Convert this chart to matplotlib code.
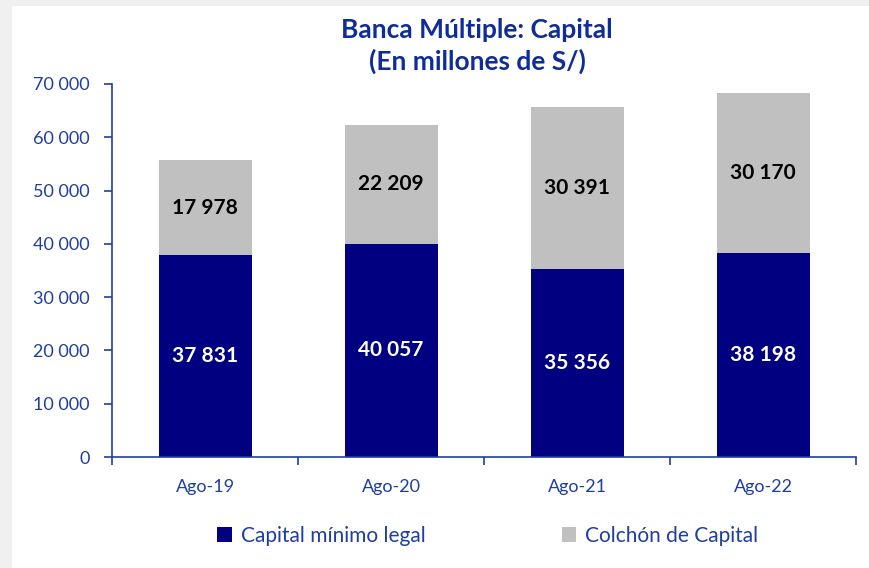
import matplotlib
matplotlib.use("Agg")
import matplotlib.pyplot as plt
import numpy as np
from matplotlib.patches import Rectangle
from matplotlib.ticker import FuncFormatter, FixedLocator

plt.rcParams['font.family'] = ['Lato', 'DejaVu Sans']

# data
periods = ['Ago-19', 'Ago-20', 'Ago-21', 'Ago-22']
capital_minimo = [37831, 40057, 35356, 38198]
colchon = [17978, 22209, 30391, 30170]
series_names = ['Capital mínimo legal', 'Colchón de Capital']

navy = '#000080'
gray = '#C0C0C0'
txt_blue = '#1F3F9F'
title_blue = '#0E2C9A'


def fmt_num(v):
    return '{:,.0f}'.format(v).replace(',', ' ')


fig = plt.figure(figsize=(8.69, 5.68), dpi=100, facecolor='#F0F0F0')
# white panel
fig.patches.append(Rectangle((12 / 869, 0), 1 - 12 / 869, 1 - 6 / 568,
                             transform=fig.transFigure, facecolor='white',
                             edgecolor='none', zorder=-10))

ax = fig.add_axes([112 / 869, 1 - 457 / 568, (856 - 112) / 869, (457 - 84) / 568])
ax.set_facecolor('none')
ax.set_zorder(5)

x = np.arange(len(periods))
b1 = ax.bar(x, capital_minimo, width=0.5, color=navy, label=series_names[0], zorder=2)
b2 = ax.bar(x, colchon, width=0.5, bottom=capital_minimo, color=gray,
            label=series_names[1], zorder=2)

for i in range(len(periods)):
    ax.text(x[i], capital_minimo[i] / 2, fmt_num(capital_minimo[i]), ha='center',
            va='center', color='white', fontsize=15, fontweight='bold')
    ax.text(x[i], capital_minimo[i] + colchon[i] / 2, fmt_num(colchon[i]), ha='center',
            va='center', color='black', fontsize=15, fontweight='bold')

ax.set_xlim(-0.5, len(periods) - 0.5)
ax.set_ylim(0, 70000)
ax.set_yticks(np.arange(0, 70001, 10000))
ax.yaxis.set_major_formatter(FuncFormatter(lambda v, p: fmt_num(v)))

# category boundaries as major ticks, labels on minor ticks
ax.xaxis.set_major_locator(FixedLocator(np.arange(-0.5, len(periods), 1.0)))
ax.xaxis.set_minor_locator(FixedLocator(x))
ax.set_xticklabels([])
ax.set_xticklabels(periods, minor=True)
ax.tick_params(axis='x', which='minor', length=0, pad=16, labelsize=13, labelcolor=txt_blue)
ax.tick_params(axis='x', which='major', length=6, color=txt_blue, width=1.2)
ax.tick_params(axis='y', length=6, color=txt_blue, width=1.2, labelsize=13,
               labelcolor=txt_blue, pad=10)

for s in ['top', 'right']:
    ax.spines[s].set_visible(False)
for s in ['left', 'bottom']:
    ax.spines[s].set_color(txt_blue)
    ax.spines[s].set_linewidth(1.2)

fig.text(477 / 869, 1 - 46 / 568, 'Banca Múltiple: Capital\n(En millones de S/)',
         ha='center', va='center', fontsize=19, fontweight='bold', color=title_blue,
         linespacing=1.3)

leg = fig.legend(handles=[b1, b2], loc='center', bbox_to_anchor=(488 / 869, 1 - 536 / 568),
                 ncol=2, frameon=False, fontsize=15, handlelength=0.7, handleheight=0.7,
                 columnspacing=6.5, handletextpad=0.45)
for t in leg.get_texts():
    t.set_color(txt_blue)

fig.savefig('out.png', dpi=100, facecolor=fig.get_facecolor())
